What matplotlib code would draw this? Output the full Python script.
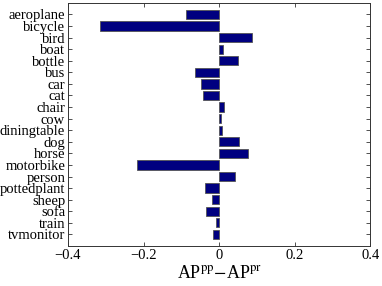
import numpy as np
import matplotlib
matplotlib.use("Agg")
import matplotlib.pyplot as plt

# VOC classes and AP difference
classes = ["aeroplane", "bicycle", "bird", "boat", "bottle", "bus", "car", "cat",
           "chair", "cow", "diningtable", "dog", "horse", "motorbike", "person",
           "pottedplant", "sheep", "sofa", "train", "tvmonitor"]
ap_diff = [-0.087, -0.315, 0.087, 0.010, 0.051, -0.065, -0.048, -0.043,
           0.012, 0.004, 0.009, 0.054, 0.076, -0.218, 0.043,
           -0.036, -0.018, -0.035, -0.008, -0.015]
xticks = [-0.4, -0.2, 0, 0.2, 0.4]
xticklabels = ["\u22120.4", "\u22120.2", "0", "0.2", "0.4"]

plt.rcParams["font.family"] = ["Liberation Serif", "DejaVu Serif"]
plt.rcParams["mathtext.fontset"] = "stix"

fig = plt.figure(figsize=(3.82, 2.86), dpi=100)
ax = fig.add_axes([0.178, 0.140, 0.791, 0.850])

pos = np.arange(1, len(classes) + 1)
ax.barh(pos, ap_diff, height=0.8, color="#000080", edgecolor="#555555", linewidth=0.6)

ax.set_ylim(len(classes) + 1, 0)
ax.set_xlim(-0.4, 0.4)
ax.set_yticks(pos)
ax.set_yticklabels(classes, fontsize=10.5)
ax.set_xticks(xticks)
ax.set_xticklabels(xticklabels, fontsize=10.5)
ax.tick_params(direction="in", top=True, right=True, length=3, width=0.6,
               color="#333333", pad=2)
for s in ax.spines.values():
    s.set_linewidth(0.7)
    s.set_color("#333333")

ax.set_xlabel(r"AP$^{\mathrm{pp}}$$-$AP$^{\mathrm{pr}}$", fontsize=13, labelpad=2)

fig.savefig("out.png", dpi=100)
